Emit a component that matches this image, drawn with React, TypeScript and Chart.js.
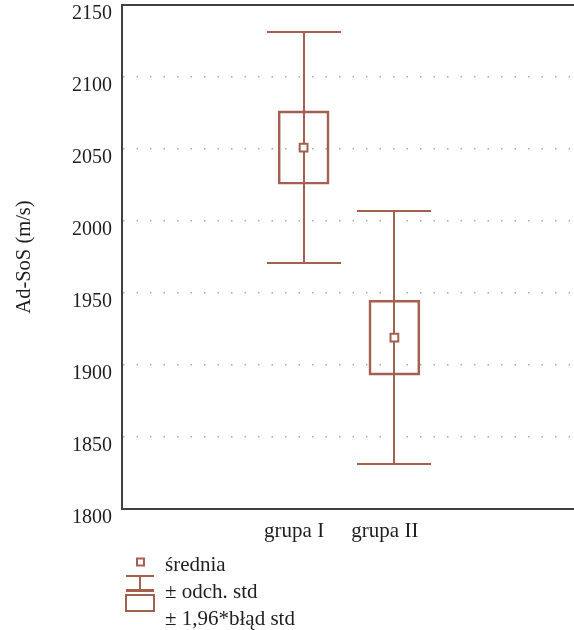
import React, { useEffect, useRef } from 'react';
import { Chart, registerables } from 'chart.js';

Chart.register(...registerables);

const categories = ['grupa I', 'grupa II'];
const means = [2051, 1919];
const sdLow = [1971, 1831];
const sdHigh = [2131, 2007];
const ciLow = [2025.5, 1893];
const ciHigh = [2076.5, 1945];
const yTicks = [1800, 1850, 1900, 1950, 2000, 2050, 2100, 2150];
const legendLabels = ['średnia', '± odch. std', '± 1,96*błąd std'];

const BROWN = '#a4604f';
const AXIS = '#404040';
const TEXT = '#1e1e1e';
const FONT = "'Liberation Serif', 'Times New Roman', serif";

const whiskerPlugin = {
  id: 'whiskers',
  beforeDatasetsDraw(chart: any) {
    const { ctx, scales } = chart;
    const x = scales.x;
    const y = scales.y;
    ctx.save();
    ctx.strokeStyle = BROWN;
    ctx.lineWidth = 2;
    const capHalf = 37;
    categories.forEach((_, i) => {
      const px = Math.round(x.getPixelForValue(i + 1));
      const yt = Math.round(y.getPixelForValue(sdHigh[i]));
      const yb = Math.round(y.getPixelForValue(sdLow[i]));
      ctx.beginPath();
      ctx.moveTo(px, yt);
      ctx.lineTo(px, yb);
      ctx.moveTo(px - capHalf, yt);
      ctx.lineTo(px + capHalf, yt);
      ctx.moveTo(px - capHalf, yb);
      ctx.lineTo(px + capHalf, yb);
      ctx.stroke();
    });
    ctx.restore();
  },
};

const framePlugin = {
  id: 'frameLegend',
  afterDraw(chart: any) {
    const { ctx, chartArea } = chart;
    ctx.save();
    ctx.strokeStyle = AXIS;
    ctx.lineWidth = 2;
    ctx.beginPath();
    ctx.moveTo(chartArea.left - 1, chartArea.top);
    ctx.lineTo(chart.width, chartArea.top);
    ctx.stroke();

    ctx.strokeStyle = BROWN;
    ctx.fillStyle = '#ffffff';
    ctx.lineWidth = 2;
    ctx.fillRect(137, 558.5, 7, 7);
    ctx.strokeRect(137, 558.5, 7, 7);
    ctx.lineWidth = 2;
    ctx.beginPath();
    ctx.moveTo(126, 576);
    ctx.lineTo(154, 576);
    ctx.moveTo(140, 576);
    ctx.lineTo(140, 590);
    ctx.stroke();
    ctx.lineWidth = 3;
    ctx.beginPath();
    ctx.moveTo(126, 590.5);
    ctx.lineTo(154, 590.5);
    ctx.stroke();
    ctx.lineWidth = 2;
    ctx.strokeRect(126, 595, 28, 16);

    ctx.fillStyle = TEXT;
    ctx.font = `21px ${FONT}`;
    ctx.textAlign = 'left';
    ctx.textBaseline = 'alphabetic';
    const baselines = [571, 598, 625];
    legendLabels.forEach((t, i) => ctx.fillText(t, 165, baselines[i]));
    ctx.restore();
  },
};

export default function App() {
  const ref = useRef<HTMLCanvasElement>(null);
  useEffect(() => {
    const chart = new Chart(ref.current as HTMLCanvasElement, {
      type: 'bar',
      data: {
        datasets: [
          {
            type: 'scatter',
            data: means.map((m, i) => ({ x: i + 1, y: m })),
            pointStyle: 'rect',
            pointRadius: 5.5,
            pointBackgroundColor: '#ffffff',
            pointBorderColor: BROWN,
            pointBorderWidth: 2,
            order: 0,
          } as any,
          {
            type: 'bar',
            data: categories.map((_, i) => ({ x: i + 1, y: [ciLow[i], ciHigh[i]] })),
            backgroundColor: 'rgba(0,0,0,0)',
            borderColor: BROWN,
            borderWidth: 2,
            borderSkipped: false,
            barThickness: 51,
            order: 2,
          } as any,
        ],
      },
      options: {
        animation: false,
        responsive: false,
        devicePixelRatio: 1,
        layout: { autoPadding: false, padding: { left: 0, right: 0, top: 5, bottom: 0 } },
        plugins: { legend: { display: false }, tooltip: { enabled: false } },
        scales: {
          x: {
            type: 'linear',
            offset: false,
            min: -1,
            max: 4,
            afterBuildTicks: (s: any) => {
              s.ticks = categories.map((_, i) => ({ value: i + 1 }));
            },
            ticks: {
              callback: (v: any) => categories[Math.round(Number(v)) - 1] ?? '',
              padding: 10,
              labelOffset: -9.5,
              color: TEXT,
              font: { family: FONT, size: 21 },
              autoSkip: false,
              maxRotation: 0,
            },
            grid: { display: false, drawTicks: false },
            border: { display: true, color: AXIS, width: 2 },
            afterFit: (s: any) => {
              s.height = 121;
              s.paddingLeft = 0;
              s.paddingRight = 0;
            },
          },
          y: {
            type: 'linear',
            min: 1800,
            max: 2150,
            afterBuildTicks: (s: any) => {
              s.ticks = yTicks.map((v) => ({ value: v }));
            },
            ticks: {
              padding: 10,
              labelOffset: 9,
              color: TEXT,
              font: { family: FONT, size: 20 },
              callback: (v: any) => String(v),
            },
            grid: { color: '#a8a8a8', lineWidth: 1.5, drawTicks: false },
            border: { display: true, color: AXIS, width: 2, dash: [1.5, 12] },
            title: {
              display: true,
              text: 'Ad-SoS (m/s)',
              color: TEXT,
              font: { family: FONT, size: 20.5 },
              padding: { top: 12, bottom: 0 },
            },
            afterFit: (s: any) => {
              s.width = 122;
              s.paddingTop = 0;
              s.paddingBottom = 0;
            },
          },
        },
      } as any,
      plugins: [whiskerPlugin, framePlugin],
    });
    return () => chart.destroy();
  }, []);
  return (
    <div
      style={{
        position: 'fixed',
        left: 0,
        top: 0,
        width: 574,
        height: 630,
        overflow: 'hidden',
        background: '#ffffff',
      }}
    >
      <canvas ref={ref} width={576} height={630} style={{ width: 576, height: 630, display: 'block' }} />
    </div>
  );
}
